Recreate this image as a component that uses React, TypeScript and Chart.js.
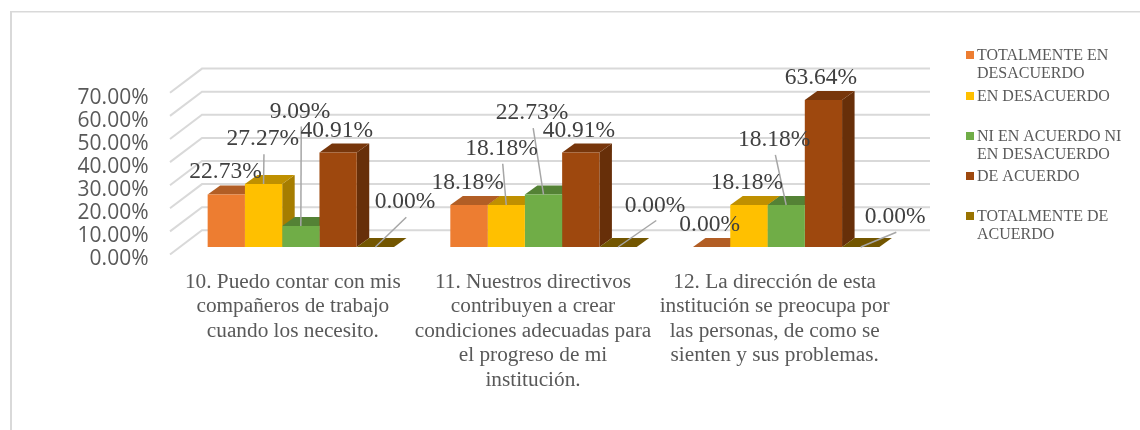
import React, { useEffect, useRef } from "react";
import { Chart, registerables } from "chart.js";

Chart.register(...registerables);

const categories = [
  ["10. Puedo contar con mis", "compañeros de trabajo", "cuando los necesito."],
  ["11. Nuestros directivos", "contribuyen a crear", "condiciones adecuadas para", "el progreso de mi", "institución."],
  ["12. La dirección de esta", "institución se preocupa por", "las personas, de como se", "sienten y sus problemas."],
];
const seriesNames = [
  "TOTALMENTE EN DESACUERDO",
  "EN DESACUERDO",
  "NI EN ACUERDO NI EN DESACUERDO",
  "DE ACUERDO",
  "TOTALMENTE DE ACUERDO",
];
const totalmenteEnDesacuerdo = [22.73, 18.18, 0];
const enDesacuerdo = [27.27, 18.18, 18.18];
const niEnAcuerdo = [9.09, 22.73, 18.18];
const deAcuerdo = [40.91, 40.91, 63.64];
const totalmenteDeAcuerdo = [0, 0, 0];
const seriesValues = [totalmenteEnDesacuerdo, enDesacuerdo, niEnAcuerdo, deAcuerdo, totalmenteDeAcuerdo];
const seriesColors = ["#ED7D31", "#FFC000", "#70AD47", "#9E480E", "#997300"];

// Wrapped legend rows and their vertical placement
const legendLines = [
  ["TOTALMENTE EN", "DESACUERDO"],
  ["EN DESACUERDO"],
  ["NI EN ACUERDO NI", "EN DESACUERDO"],
  ["DE ACUERDO"],
  ["TOTALMENTE DE", "ACUERDO"],
];
const legendTops = [51, 92, 132, 172, 212];

// Manual data-label placement, relative to the top centre of each bar: [series][category] = [dx, dy, leader]
const labelOffsets: number[][][] = [
  [[-0.8, -23.8, 0], [-1.3, -24, 0], [-2, -23.3, 0]],
  [[-0.8, -46.3, 1], [-4.7, -57.7, 1], [-2, -24, 0]],
  [[-0.8, -116, 1], [-11.5, -82.8, 1], [-12, -66.7, 1]],
  [[-1.3, -23.5, 0], [-1.8, -23.5, 0], [-2.5, -23.3, 0]],
  [[29.7, -46.3, 1], [37, -43, 1], [34.4, -31.3, 1]],
];
const categoryShift = [-8, -10.5, -11.5];

const DEPTH_X = 12.5;
const DEPTH_Y = -9;

function shade(hex: string, f: number) {
  const n = parseInt(hex.slice(1), 16);
  const c = (s: number) => Math.round(((n >> s) & 255) * f);
  return `rgb(${c(16)},${c(8)},${c(0)})`;
}

const framePlugin = {
  id: "frame3d",
  beforeDraw(chart: any) {
    const { ctx } = chart;
    ctx.save();
    ctx.fillStyle = "#FFFFFF";
    ctx.fillRect(0, 0, chart.width, chart.height);
    ctx.fillStyle = "#D9D9D9";
    ctx.fillRect(10, 11, 2, chart.height - 11);
    ctx.fillRect(10, 11, chart.width - 10, 1.5);
    ctx.restore();

    // shift each category label to where the reference placed it
    const items = chart.scales.x.getLabelItems(chart.chartArea);
    items.forEach((it: any, i: number) => {
      if (!it.__moved) {
        it.options.translation[0] += categoryShift[i];
        it.__moved = true;
      }
    });
  },
  beforeDatasetsDraw(chart: any) {
    const { ctx, chartArea, scales } = chart;
    const y = scales.y;
    const left = chartArea.left - 9.5;
    const backLeft = left + 32;
    const backRight = chartArea.right + 22.5;
    ctx.save();
    ctx.strokeStyle = "#D9D9D9";
    ctx.lineWidth = 2;
    y.ticks.forEach((t: any) => {
      const p = y.getPixelForValue(t.value);
      ctx.beginPath();
      ctx.moveTo(left, p + 7.5);
      ctx.lineTo(backLeft, p - 16.7);
      ctx.lineTo(backRight, p - 16.7);
      ctx.stroke();
    });
    // depth faces of each bar; the fronts are drawn by Chart.js afterwards
    chart.data.datasets.forEach((_: any, di: number) => {
      const color = seriesColors[di];
      chart.getDatasetMeta(di).data.forEach((bar: any) => {
        const { x, y: top, base, width } = bar.getProps(["x", "y", "base", "width"], true);
        const l = x - width / 2;
        const r = x + width / 2;
        ctx.fillStyle = shade(color, 0.65);
        ctx.beginPath();
        ctx.moveTo(r, top);
        ctx.lineTo(r + DEPTH_X, top + DEPTH_Y);
        ctx.lineTo(r + DEPTH_X, base + DEPTH_Y);
        ctx.lineTo(r, base);
        ctx.closePath();
        ctx.fill();
        ctx.fillStyle = shade(color, 0.75);
        ctx.beginPath();
        ctx.moveTo(l, top);
        ctx.lineTo(l + DEPTH_X, top + DEPTH_Y);
        ctx.lineTo(r + DEPTH_X, top + DEPTH_Y);
        ctx.lineTo(r, top);
        ctx.closePath();
        ctx.fill();
      });
    });
    ctx.restore();
  },
  afterDatasetsDraw(chart: any) {
    const { ctx } = chart;
    ctx.save();
    // leader lines, then data labels
    chart.data.datasets.forEach((ds: any, di: number) => {
      chart.getDatasetMeta(di).data.forEach((bar: any, ci: number) => {
        const [dx, dy, leader] = labelOffsets[di][ci];
        if (!leader) return;
        ctx.strokeStyle = "#A6A6A6";
        ctx.lineWidth = 1.5;
        ctx.beginPath();
        ctx.moveTo(bar.x + dx + 1.2, bar.y + dy + 16.5);
        ctx.lineTo(bar.x, bar.y);
        ctx.stroke();
      });
    });
    ctx.font = '23.5px "Liberation Serif"';
    ctx.fillStyle = "#404040";
    ctx.textAlign = "center";
    ctx.textBaseline = "middle";
    chart.data.datasets.forEach((ds: any, di: number) => {
      chart.getDatasetMeta(di).data.forEach((bar: any, ci: number) => {
        const [dx, dy] = labelOffsets[di][ci];
        ctx.fillText(ds.data[ci].toFixed(2) + "%", bar.x + dx, bar.y + dy + 1.5);
      });
    });
    // legend
    ctx.font = '16px "Liberation Serif"';
    ctx.textAlign = "left";
    legendLines.forEach((lines, i) => {
      ctx.fillStyle = seriesColors[i];
      ctx.fillRect(966, legendTops[i], 8, 8);
      ctx.fillStyle = "#595959";
      lines.forEach((line, j) => {
        ctx.fillText(line, 977, legendTops[i] + 5 + j * 18);
      });
    });
    ctx.restore();
  },
};

export default function App() {
  const ref = useRef<HTMLCanvasElement>(null);
  useEffect(() => {
    const chart = new Chart(ref.current as HTMLCanvasElement, {
      type: "bar",
      data: {
        labels: categories,
        datasets: seriesNames.map((name, i) => ({
          label: name,
          data: seriesValues[i],
          backgroundColor: seriesColors[i],
          borderWidth: 0,
          categoryPercentage: 0.768,
          barPercentage: 1,
        })),
      } as any,
      options: {
        responsive: false,
        animation: false,
        layout: { padding: { top: 85.3, right: 232.5, left: 0, bottom: 0 } },
        plugins: { legend: { display: false }, tooltip: { enabled: false } },
        scales: {
          x: {
            grid: { display: false, drawTicks: false },
            border: { display: false },
            afterFit: (s: any) => { s.height = 183; },
            ticks: {
              maxRotation: 0,
              autoSkip: false,
              padding: 23,
              color: "#595959",
              font: { family: '"Liberation Serif"', size: 21.3, lineHeight: 1.15 },
            },
          },
          y: {
            min: 0,
            max: 70,
            grid: { display: false, drawTicks: false },
            border: { display: false },
            afterFit: (s: any) => { s.width = 179.5; },
            ticks: {
              stepSize: 10,
              autoSkip: false,
              padding: 31,
              labelOffset: 12.5,
              color: "#595959",
              font: { family: '"Open Sans"', size: 21 },
              callback: (v: any) => Number(v).toFixed(2) + "%",
            },
          },
        },
      } as any,
      plugins: [framePlugin],
    });
    return () => chart.destroy();
  }, []);
  return (
    <div style={{ position: "absolute", left: 0, top: 0, width: 1140, height: 430 }}>
      <canvas ref={ref} width={1140} height={430} style={{ display: "block" }} />
    </div>
  );
}
